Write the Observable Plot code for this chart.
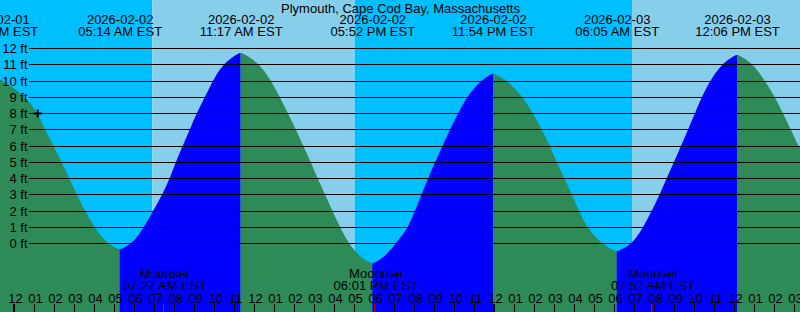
<!DOCTYPE html>
<html><head><meta charset="utf-8">
<script src="https://cdn.jsdelivr.net/npm/d3@7"></script>
<script src="https://cdn.jsdelivr.net/npm/@observablehq/plot@0.6"></script>
<style>
html,body{margin:0;padding:0;background:#fff;}
#chart svg{display:block;}
</style></head><body><div id="chart"></div>
<script>
const title = "Plymouth, Cape Cod Bay, Massachusetts";

// times are hours since 2026-02-02 00:00 EST, levels in ft
const eventTimes  = [-0.95, 5.233, 11.283, 17.867, 23.9, 30.083, 36.1];
const eventLevels = [10.15, -0.37, 11.69, -1.24, 10.4, -0.47, 11.55];
const eventKinds  = ["high", "low", "high", "low", "high", "low", "high"];
const eventDates  = ["2026-02-01", "2026-02-02", "2026-02-02", "2026-02-02", "2026-02-02", "2026-02-03", "2026-02-03"];
const eventClocks = ["11:03 PM EST", "05:14 AM EST", "11:17 AM EST", "05:52 PM EST", "11:54 PM EST", "06:05 AM EST", "12:06 PM EST"];

// tide level readings between the extremes
const sampleTimes = [
  -0.85, -0.75, 0.585, 1.115, 1.5, 1.915, 2.335, 2.7, 3.085, 3.5, 3.965, 4.55, 5.133,
  5.333, 5.915, 6.45, 6.915, 7.375, 7.75, 8.035, 8.385, 8.75, 9.085, 9.5, 9.885, 10.385, 11.183,
  11.383, 12.25, 12.8, 13.25, 13.635, 14.035, 14.415, 14.785, 15.115, 15.5, 15.865, 16.25, 16.665, 17.25, 17.767,
  17.967, 18.55, 19.25, 19.665, 20.0, 20.335, 20.665, 21.0, 21.385, 21.75, 22.165, 22.585, 23.25, 23.8,
  24.0, 24.665, 25.385, 25.885, 26.335, 26.75, 27.085, 27.45, 27.835, 28.2, 28.585, 29.275, 29.983,
  30.183, 30.915, 31.415, 31.835, 32.25, 32.585, 32.95, 33.3, 33.665, 34.0, 34.335, 34.75, 35.335, 36.0,
  36.2, 36.915, 37.5, 38.0, 38.385, 38.785, 39.165, 39.25
];
const sampleLevels = [
  10.15, 10.09, 9, 8, 7, 6, 5, 4, 3, 2, 1, 0, -0.37,
  -0.37, 0, 1, 2, 3, 4, 5, 6, 7, 8, 9, 10, 11, 11.69,
  11.69, 11, 10, 9, 8, 7, 6, 5, 4, 3, 2, 1, 0, -0.85, -1.24,
  -1.24, -0.82, 0.3, 1, 2, 3, 4, 5, 6, 7, 8, 9, 10, 10.4,
  10.4, 10, 9, 8, 7, 6, 5, 4, 3, 2, 1, 0, -0.47,
  -0.47, 0, 1, 2, 3, 4, 5, 6, 7, 8, 9, 10, 11, 11.55,
  11.55, 11, 10, 9, 8, 7, 6, 5.85
];

const moonTimes  = [7.45, 18.017, 31.867];
const moonNames  = ["Moonset", "Moonrise", "Moonset"];
const moonClocks = ["07:27 AM EST", "06:01 PM EST", "07:52 AM EST"];

const lightStarts = [-2, 6.867, 16.983, 30.85];
const lightEnds   = [6.867, 16.983, 30.85, 41];
const lightKinds  = ["night", "day", "night", "day"];

const levelTicks = [0, 1, 2, 3, 4, 5, 6, 7, 8, 9, 10, 11, 12];
const hourTicks = [0,1,2,3,4,5,6,7,8,9,10,11,12,13,14,15,16,17,18,19,20,21,22,23,24,25,26,27,28,29,30,31,32,33,34,35,36,37,38,39];
const hourLabels = ["12","01","02","03","04","05","06","07","08","09","10","11",
                    "12","01","02","03","04","05","06","07","08","09","10","11",
                    "12","01","02","03","04","05","06","07","08","09","10","11",
                    "12","01","02","03"];
const midnightTicks = [0, 24];

const nowTime = 1.115;
const nowLevel = 8;

// styles
const NIGHT = "#00bfff", DAY = "#87ceeb", RISING = "#0000ff", FALLING = "#2e8b57";
const FONT = "'Liberation Sans', Arial, Helvetica, sans-serif";
const NARROW = "'Liberation Sans Narrow', 'Arial Narrow', 'Liberation Sans', sans-serif";
const BOTTOM = -4.6;

const extremes = eventTimes.map((t, i) => ({t, h: eventLevels[i], kind: eventKinds[i], date: eventDates[i], clock: eventClocks[i]}));
const samples = sampleTimes.map((t, i) => ({t, h: sampleLevels[i]}));
const tideRows = [];
extremes.forEach((e, i) => {
  const next = extremes[i + 1];
  const end = next ? next.t : Infinity;
  const pts = [e, ...samples.filter(s => s.t > e.t && s.t < end)];
  if (next) pts.push(next);
  const fill = e.kind === "low" ? RISING : FALLING;
  pts.forEach(p => tideRows.push({t: p.t, h: p.h, seg: i, fill}));
});
const bands = lightStarts.map((s, i) => ({start: s, end: lightEnds[i], fill: lightKinds[i] === "day" ? DAY : NIGHT}));
const moons = moonTimes.map((t, i) => ({t, label: moonNames[i] + "\n" + moonClocks[i]}));
const thinTicks = hourTicks.filter(h => !midnightTicks.includes(h));

const chart = Plot.plot({
  width: 800, height: 312, margin: 0,
  x: {domain: [-0.75, 39.25], range: [0, 800], axis: null},
  y: {domain: [0, 12], range: [243, 48], axis: null, round: true},
  color: {type: "identity"},
  style: {fontFamily: FONT, fontSize: "13px", color: "#000", background: "transparent"},
  marks: [
    Plot.rect(bands, {x1: "start", x2: "end", fill: "fill", clip: true}),
    Plot.areaY(tideRows, {x: "t", y1: "h", y2: () => BOTTOM, z: "seg", fill: "fill", curve: "basis", clip: true}),
    Plot.ruleY(levelTicks, {y: d => d, insetLeft: 29, stroke: "#000", strokeWidth: 1}),
    Plot.text(levelTicks, {y: d => d, text: d => `${d} ft`, frameAnchor: "left", textAnchor: "end", dx: 27, fontSize: 13, fill: "#000"}),
    Plot.text([title], {text: d => d, frameAnchor: "top", lineAnchor: "top", dy: 2.8, fontSize: 13, fill: "#000"}),
    Plot.text(extremes, {x: "t", text: d => d.date + "\n" + d.clock, frameAnchor: "top", lineAnchor: "top", dy: 14.1, lineHeight: 0.98, fontSize: 13, fill: "#000"}),
    Plot.text(moons, {x: "t", text: "label", frameAnchor: "top", lineAnchor: "top", dy: 268.5, lineHeight: 0.95, fontSize: 13, fill: "#000"}),
    Plot.ruleX(thinTicks, {x: d => d, insetTop: 304, stroke: "#000", strokeWidth: 1, dx: -1}),
    Plot.ruleX(midnightTicks, {x: d => d, insetTop: 304, stroke: "#000", strokeWidth: 2, dx: -1.5}),
    Plot.ruleX(moonTimes, {x: d => d, insetTop: 304, stroke: "#ff0000", strokeWidth: 1, dx: -1}),
    Plot.text(hourTicks, {x: d => d, text: (d, i) => hourLabels[i], frameAnchor: "top", lineAnchor: "top", dy: 293.5, fontSize: 13, fontFamily: NARROW, fill: "#000"}),
    Plot.dot([{t: nowTime, h: nowLevel}], {x: "t", y: "h", symbol: "plus", r: 2.7, stroke: "#000", strokeWidth: 2})
  ]
});
document.getElementById("chart").appendChild(chart);
</script>
</body></html>
